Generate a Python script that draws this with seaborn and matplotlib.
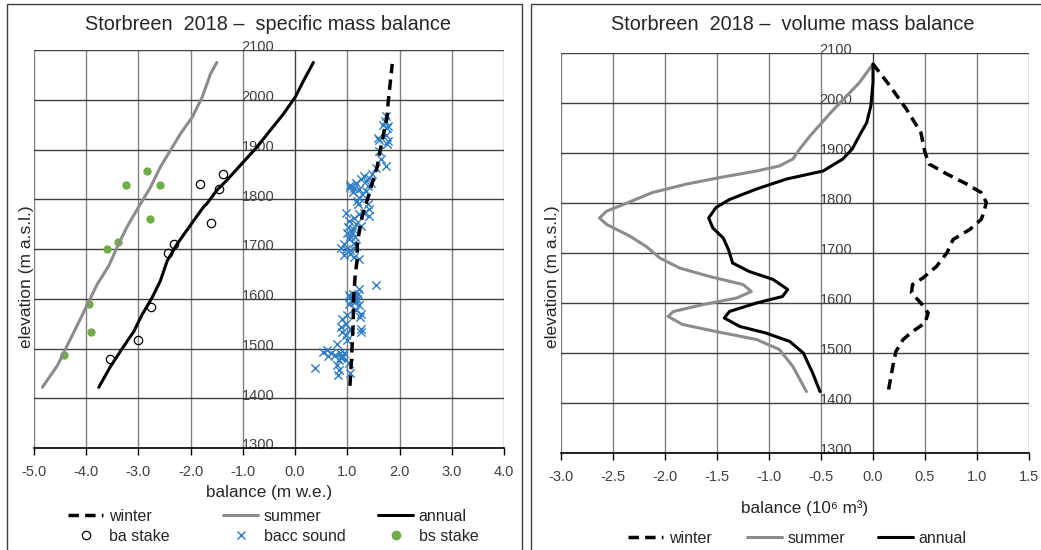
import numpy as np
import pandas as pd
import seaborn as sns
import matplotlib.pyplot as plt
import matplotlib.transforms as mtransforms
from matplotlib.lines import Line2D
from matplotlib.patches import Rectangle

# ---- specific mass balance (m w.e.) vs elevation ----
winter_b = [1.05, 1.08, 1.11, 1.12, 1.15, 1.19, 1.19, 1.28, 1.38, 1.57, 1.63, 1.76, 1.78, 1.86]
winter_z = [1425, 1480, 1547, 1600, 1647, 1680, 1712, 1764, 1798, 1865, 1899, 1965, 1993, 2072]

summer_b = [-4.84, -4.55, -4.36, -4.17, -3.98, -3.79, -3.57, -3.38, -3.22, -3.05, -2.96, -2.77, -2.58,
            -2.39, -2.20, -1.97, -1.78, -1.62, -1.50]
summer_z = [1422, 1466, 1507, 1547, 1588, 1629, 1666, 1710, 1744, 1775, 1791, 1824, 1865,
            1898, 1931, 1965, 2005, 2052, 2075]

annual_b = [-3.76, -3.54, -3.31, -3.09, -2.93, -2.74, -2.58, -2.45, -2.26, -2.01, -1.75, -1.69, -1.50,
            -1.31, -0.99, -0.73, -0.48, -0.22, 0.00, 0.16, 0.35]
annual_z = [1422, 1463, 1500, 1534, 1568, 1602, 1636, 1676, 1710, 1747, 1785, 1791, 1818,
            1838, 1875, 1905, 1938, 1972, 2005, 2038, 2075]

ba_b = [-1.83, -1.39, -1.46, -1.62, -2.32, -2.44, -2.76, -3.01, -3.55]
ba_z = [1831, 1850, 1820, 1752, 1710, 1691, 1583, 1517, 1478]

bs_b = [-2.83, -3.24, -2.58, -2.78, -3.39, -3.60, -3.95, -3.90, -4.43]
bs_z = [1857, 1829, 1829, 1760, 1715, 1700, 1590, 1534, 1486]

bacc_b = [1.74, 1.68, 1.77, 1.58, 1.77, 1.74, 1.72, 1.76, 1.60, 1.76,
          1.61, 1.65, 1.74, 1.55, 1.48, 1.42, 1.35, 1.45, 1.39, 1.32,
          1.26, 1.16, 1.06, 1.13, 1.23, 1.35, 1.29, 1.23, 1.19, 1.39,
          1.42, 1.32, 1.42, 1.23, 1.13, 0.97, 1.03, 1.16, 1.26, 1.10,
          1.00, 1.06, 1.03, 1.13, 0.94, 0.97, 1.06, 1.16, 0.87, 0.94,
          1.13, 1.23, 1.06, 1.05, 1.10, 1.20, 1.02, 1.08, 1.15,
          1.55, 1.23, 1.10, 1.06, 1.13, 1.03, 1.23, 1.16, 1.26, 1.00,
          0.90, 0.97, 0.87, 1.06, 0.90, 1.26, 0.97, 1.00, 0.81, 0.61,
          0.68, 0.77, 0.87, 0.94, 0.84, 0.81, 1.03, 1.06, 0.39, 0.84,
          1.10, 1.13, 1.16, 1.08, 1.20, 1.04, 1.18, 0.92, 0.88, 0.85,
          0.83, 1.25, 1.27, 0.54, 0.63, 0.90, 1.12, 1.14]
bacc_z = [1967, 1950, 1947, 1923, 1917, 1930, 1958, 1943, 1919, 1912,
          1897, 1880, 1867, 1863, 1850, 1843, 1837, 1833, 1827, 1847,
          1840, 1833, 1829, 1823, 1820, 1817, 1810, 1803, 1797, 1790,
          1780, 1773, 1767, 1770, 1763, 1773, 1757, 1750, 1747, 1740,
          1733, 1727, 1720, 1713, 1710, 1700, 1697, 1707, 1703, 1687,
          1683, 1680, 1690, 1824, 1815, 1790, 1745, 1735, 1725,
          1627, 1620, 1610, 1603, 1597, 1590, 1587, 1577, 1570, 1567,
          1560, 1550, 1543, 1540, 1533, 1540, 1527, 1517, 1510, 1497,
          1490, 1487, 1483, 1490, 1477, 1467, 1470, 1450, 1460, 1457,
          1600, 1605, 1595, 1598, 1610, 1608, 1600, 1485, 1480, 1490,
          1446, 1563, 1534, 1492, 1485, 1482, 1593, 1602]

# ---- volume mass balance (10^6 m3) vs elevation ----
vw_b = [0.15, 0.19, 0.22, 0.29, 0.38, 0.50, 0.53, 0.46, 0.37, 0.38, 0.48, 0.61, 0.71, 0.77, 0.93, 1.04,
        1.06, 1.09, 1.04, 0.90, 0.71, 0.54, 0.50, 0.46, 0.32, 0.16, 0.00]
vw_z = [1427, 1473, 1503, 1527, 1543, 1560, 1580, 1600, 1620, 1637, 1650, 1673, 1700, 1727, 1747, 1767,
        1778, 1801, 1821, 1838, 1858, 1878, 1901, 1941, 1988, 2035, 2078]

vs_b = [-0.64, -0.77, -0.90, -1.12, -1.51, -1.83, -1.97, -1.92, -1.63, -1.31, -1.17, -1.25, -1.57,
        -1.86, -2.05, -2.18, -2.34, -2.56, -2.63, -2.56, -2.40, -2.12, -1.79, -1.47, -1.12, -0.90,
        -0.77, -0.705, -0.61, -0.41, -0.13, 0.00]
vs_z = [1423, 1473, 1507, 1527, 1543, 1557, 1573, 1583, 1597, 1610, 1623, 1637, 1653,
        1670, 1690, 1713, 1734, 1757, 1770, 1784, 1797, 1821, 1838, 1851, 1864, 1874,
        1888, 1908, 1933, 1980, 2041, 2078]

va_b = [-0.51, -0.58, -0.67, -0.80, -1.03, -1.28, -1.43, -1.38, -1.12, -0.87, -0.82, -0.96, -1.19,
        -1.35, -1.39, -1.44, -1.54, -1.58, -1.51, -1.38, -1.12, -0.83, -0.48, -0.29, -0.20, -0.13,
        -0.06, -0.02, 0.00, 0.00]
va_z = [1423, 1460, 1500, 1523, 1540, 1553, 1570, 1583, 1600, 1613, 1627, 1647, 1663,
        1680, 1707, 1730, 1750, 1770, 1791, 1807, 1828, 1848, 1864, 1888, 1908, 1935,
        1961, 1995, 2041, 2078]

W, H = 1041, 550
sns.set_style('white')
plt.rcParams['font.family'] = ['Liberation Sans', 'DejaVu Sans']
plt.rcParams['lines.solid_joinstyle'] = 'round'
plt.rcParams['lines.dash_joinstyle'] = 'round'

fig = plt.figure(figsize=(W / 100, H / 100), dpi=100)
ax1 = fig.add_axes([34 / W, 1 - 448 / H, 470 / W, 398 / H])
ax2 = fig.add_axes([561 / W, 1 - 453 / H, 468 / W, 400 / H])

grey = '#8c8c8c'
dash = (0, (3, 1.8))

# left panel
sns.scatterplot(x=bacc_b, y=bacc_z, ax=ax1, marker='x', color='#2e7dc4', s=36, linewidth=1.0, zorder=3)
sns.lineplot(x=ba_b, y=ba_z, ax=ax1, ls='none', marker='o', mfc='none', mec='black', mew=0.9, ms=6,
             estimator=None, sort=False, zorder=3)
sns.scatterplot(x=bs_b, y=bs_z, ax=ax1, color='#70ad47', s=36, linewidth=0, zorder=3)
sns.lineplot(x=summer_b, y=summer_z, ax=ax1, color=grey, lw=2.2, estimator=None, sort=False, zorder=4)
sns.lineplot(x=annual_b, y=annual_z, ax=ax1, color='black', lw=2.2, estimator=None, sort=False, zorder=4)
sns.lineplot(x=winter_b, y=winter_z, ax=ax1, color='black', lw=2.5, ls=dash, estimator=None, sort=False, zorder=5)

# right panel
sns.lineplot(x=vw_b, y=vw_z, ax=ax2, color='black', lw=2.5, ls=dash, estimator=None, sort=False, zorder=5)
sns.lineplot(x=vs_b, y=vs_z, ax=ax2, color=grey, lw=2.2, estimator=None, sort=False, zorder=4)
sns.lineplot(x=va_b, y=va_z, ax=ax2, color='black', lw=2.2, estimator=None, sort=False, zorder=4)

lift = mtransforms.ScaledTranslation(0, 3 / 72, fig.dpi_scale_trans)
for ax, xlim, xstep in [(ax1, (-5, 4), 1.0), (ax2, (-3, 1.5), 0.5)]:
    ax.set_xlim(*xlim)
    ax.set_ylim(1300, 2100)
    ax.set_xticks(np.arange(xlim[0], xlim[1] + 0.01, xstep))
    ax.set_yticks(np.arange(1300, 2101, 100))
    ax.set_xticklabels([f'{v:.1f}' for v in ax.get_xticks()])
    ax.set_axisbelow(True)
    ax.xaxis.grid(True, color='#808080', lw=1.0)
    ax.yaxis.grid(True, color='#404040', lw=1.0)
    for s in ['top', 'right']:
        ax.spines[s].set_visible(False)
    ax.spines['left'].set_position(('data', 0))
    ax.spines['left'].set_color('#404040')
    ax.spines['bottom'].set_color('black')
    ax.spines['bottom'].set_linewidth(1.2)
    ax.tick_params(axis='y', direction='inout', length=6, width=1, color='#404040', pad=12,
                   labelsize=10.5, labelcolor='#404040')
    ax.tick_params(axis='x', direction='out', length=5, width=1, color='black', pad=7,
                   labelsize=10.5, labelcolor='#404040', bottom=True)
    for lab in ax.get_yticklabels():
        lab.set_transform(lab.get_transform() + lift)
    ax.set_xlabel('')
    ax.set_ylabel('')

fig.text(268 / W, 1 - 25 / H, 'Storbreen  2018 –  specific mass balance', ha='center', va='center', fontsize=14.3, color='#262626')
fig.text(793 / W, 1 - 25 / H, 'Storbreen  2018 –  volume mass balance', ha='center', va='center', fontsize=14.3, color='#262626')
fig.text(269 / W, 1 - 492 / H, 'balance (m w.e.)', ha='center', va='center', fontsize=12.3, color='#262626')
fig.text(805 / W, 1 - 508 / H, 'balance (10⁶ m³)', ha='center', va='center', fontsize=12.3, color='#262626')
fig.text(27 / W, 1 - 277 / H, 'elevation (m a.s.l.)', ha='center', va='center', rotation=90, fontsize=12.5, color='#262626')
fig.text(552 / W, 1 - 277 / H, 'elevation (m a.s.l.)', ha='center', va='center', rotation=90, fontsize=12.5, color='#262626')

# legends, one column at a time
h_winter = Line2D([], [], color='black', lw=2.5, ls=dash)
h_summer = Line2D([], [], color=grey, lw=2.2)
h_annual = Line2D([], [], color='black', lw=2.2)
h_ba = Line2D([], [], ls='none', marker='o', mfc='none', mec='black', mew=0.9, ms=6)
h_bacc = Line2D([], [], ls='none', marker='x', color='#2e7dc4', mew=1.0, ms=6)
h_bs = Line2D([], [], ls='none', marker='o', color='#70ad47', ms=6)


def legend_col(handles, labels, x_px, y_px):
    leg = fig.legend(handles, labels, loc='upper left', bbox_to_anchor=(x_px / W, 1 - y_px / H),
                     frameon=False, handlelength=2.2, handletextpad=0.35, labelspacing=0.3,
                     borderpad=0, borderaxespad=0, fontsize=11.5)
    for t in leg.get_texts():
        t.set_color('#262626')


legend_col([h_winter, h_ba], ['winter', 'ba stake'], 68, 509)
legend_col([h_summer, h_bacc], ['summer', 'bacc sound'], 223, 509)
legend_col([h_annual, h_bs], ['annual', 'bs stake'], 378, 509)
legend_col([h_winter], ['winter'], 628, 531)
legend_col([h_summer], ['summer'], 747, 531)
legend_col([h_annual], ['annual'], 878, 531)

# chart frames
fig.patches.append(Rectangle((7 / W, -0.05), 515 / W, 1.05 - 4 / H, transform=fig.transFigure,
                             fill=False, ec='#404040', lw=1.0))
fig.patches.append(Rectangle((531 / W, -0.05), 520 / W, 1.05 - 4 / H, transform=fig.transFigure,
                             fill=False, ec='#404040', lw=1.0))

fig.savefig('out.png', dpi=100)
